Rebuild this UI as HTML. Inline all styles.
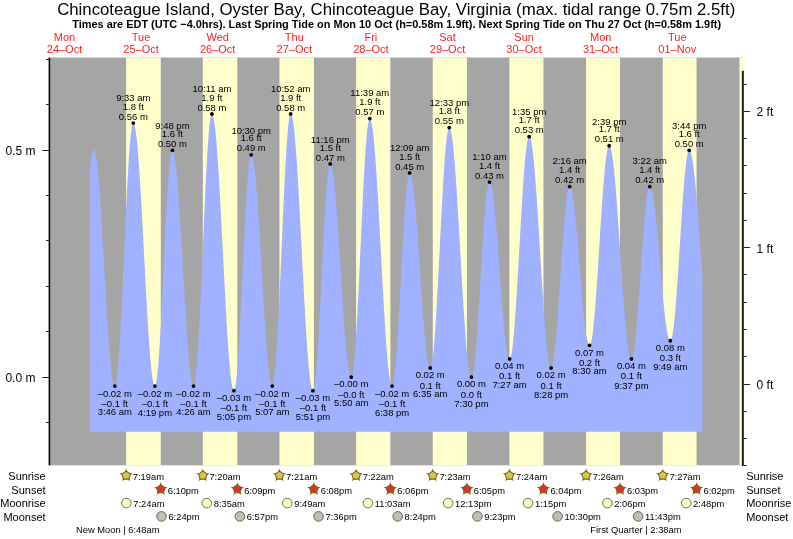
<!DOCTYPE html>
<html><head><meta charset="utf-8"><title>Tide chart</title>
<style>html,body{margin:0;padding:0;background:#fff;}svg{display:block;font-family:"Liberation Sans",sans-serif;will-change:transform;}text{fill:#000;}.t{font-size:9.5px;text-anchor:middle;}.d{font-size:11px;text-anchor:middle;fill:#f62222;}.s{font-size:9.35px;}.r{font-size:12px;}.w{font-size:11px;}</style></head><body>
<svg width="793" height="539" viewBox="0 0 793 539">
<rect width="793" height="539" fill="#fff"/>
<text x="396.2" y="15.4" text-anchor="middle" font-size="16.8px">Chincoteague Island, Oyster Bay, Chincoteague Bay, Virginia (max. tidal range 0.75m 2.5ft)</text>
<text x="396.7" y="28.3" text-anchor="middle" font-size="10.95px" font-weight="bold">Times are EDT (UTC −4.0hrs). Last Spring Tide on Mon 10 Oct (h=0.58m 1.9ft). Next Spring Tide on Thu 27 Oct (h=0.58m 1.9ft)</text>
<text class="d" x="64.5" y="41.3">Mon</text>
<text class="d" x="64.5" y="53.1">24–Oct</text>
<text class="d" x="141.1" y="41.3">Tue</text>
<text class="d" x="141.1" y="53.1">25–Oct</text>
<text class="d" x="217.7" y="41.3">Wed</text>
<text class="d" x="217.7" y="53.1">26–Oct</text>
<text class="d" x="294.3" y="41.3">Thu</text>
<text class="d" x="294.3" y="53.1">27–Oct</text>
<text class="d" x="370.9" y="41.3">Fri</text>
<text class="d" x="370.9" y="53.1">28–Oct</text>
<text class="d" x="447.5" y="41.3">Sat</text>
<text class="d" x="447.5" y="53.1">29–Oct</text>
<text class="d" x="524.1" y="41.3">Sun</text>
<text class="d" x="524.1" y="53.1">30–Oct</text>
<text class="d" x="600.7" y="41.3">Mon</text>
<text class="d" x="600.7" y="53.1">31–Oct</text>
<text class="d" x="677.3" y="41.3">Tue</text>
<text class="d" x="677.3" y="53.1">01–Nov</text>
<rect x="50.0" y="57.5" width="693.0" height="407.8" fill="#a5a5a5"/>
<rect x="126.15" y="57.5" width="34.63" height="407.8" fill="#ffffcc"/>
<rect x="202.81" y="57.5" width="34.52" height="407.8" fill="#ffffcc"/>
<rect x="279.46" y="57.5" width="34.42" height="407.8" fill="#ffffcc"/>
<rect x="356.11" y="57.5" width="34.26" height="407.8" fill="#ffffcc"/>
<rect x="432.77" y="57.5" width="34.15" height="407.8" fill="#ffffcc"/>
<rect x="509.42" y="57.5" width="34.04" height="407.8" fill="#ffffcc"/>
<rect x="586.12" y="57.5" width="33.88" height="407.8" fill="#ffffcc"/>
<rect x="662.78" y="57.5" width="33.78" height="407.8" fill="#ffffcc"/>
<rect x="739.43" y="57.5" width="3.57" height="407.8" fill="#ffffcc"/>
<path d="M90.00,431.80L90.00,169.74L90.44,165.20L90.87,161.20L91.31,157.75L91.75,154.88L92.19,152.60L92.62,150.92L93.06,149.86L93.50,149.41L93.94,149.54L94.37,150.17L94.81,151.30L95.25,152.91L95.69,155.01L96.12,157.57L96.56,160.60L97.00,164.08L97.44,167.99L97.87,172.32L98.31,177.05L98.75,182.16L99.19,187.63L99.62,193.44L100.06,199.55L100.50,205.96L100.94,212.62L101.37,219.51L101.81,226.60L102.25,233.87L102.69,241.28L103.12,248.80L103.56,256.40L104.00,264.04L104.44,271.71L104.87,279.35L105.31,286.95L105.75,294.47L106.18,301.87L106.62,309.13L107.06,316.22L107.50,323.11L107.93,329.76L108.37,336.15L108.81,342.26L109.25,348.05L109.68,353.51L110.12,358.61L110.56,363.33L111.00,367.65L111.43,371.55L111.87,375.01L112.31,378.03L112.75,380.58L113.18,382.66L113.62,384.26L114.06,385.37L114.50,385.98L114.93,386.10L115.37,385.55L115.81,384.27L116.25,382.28L116.68,379.58L117.12,376.18L117.56,372.12L118.00,367.40L118.43,362.06L118.87,356.12L119.31,349.62L119.75,342.59L120.18,335.08L120.62,327.12L121.06,318.75L121.49,310.04L121.93,301.01L122.37,291.73L122.81,282.24L123.24,272.60L123.68,262.86L124.12,253.08L124.56,243.30L124.99,233.59L125.43,223.99L125.87,214.56L126.31,205.35L126.74,196.42L127.18,187.81L127.62,179.57L128.06,171.74L128.49,164.37L128.93,157.51L129.37,151.18L129.81,145.42L130.24,140.27L130.68,135.75L131.12,131.89L131.56,128.72L131.99,126.23L132.43,124.46L132.87,123.41L133.31,123.09L133.74,123.39L134.18,124.22L134.62,125.57L135.06,127.45L135.49,129.84L135.93,132.74L136.37,136.13L136.80,140.00L137.24,144.33L137.68,149.11L138.12,154.32L138.55,159.93L138.99,165.93L139.43,172.28L139.87,178.97L140.30,185.97L140.74,193.24L141.18,200.76L141.62,208.50L142.05,216.43L142.49,224.50L142.93,232.71L143.37,241.00L143.80,249.34L144.24,257.71L144.68,266.06L145.12,274.37L145.55,282.60L145.99,290.71L146.43,298.68L146.87,306.47L147.30,314.05L147.74,321.39L148.18,328.46L148.62,335.23L149.05,341.67L149.49,347.76L149.93,353.48L150.37,358.79L150.80,363.69L151.24,368.14L151.68,372.13L152.11,375.64L152.55,378.67L152.99,381.19L153.43,383.20L153.86,384.70L154.30,385.66L154.74,386.09L155.18,385.95L155.61,385.09L156.05,383.51L156.49,381.22L156.93,378.23L157.36,374.57L157.80,370.25L158.24,365.30L158.68,359.75L159.11,353.64L159.55,347.00L159.99,339.88L160.43,332.31L160.86,324.35L161.30,316.04L161.74,307.44L162.18,298.60L162.61,289.57L163.05,280.41L163.49,271.17L163.93,261.91L164.36,252.70L164.80,243.58L165.24,234.61L165.68,225.85L166.11,217.34L166.55,209.16L166.99,201.33L167.42,193.92L167.86,186.97L168.30,180.52L168.74,174.60L169.17,169.27L169.61,164.54L170.05,160.45L170.49,157.03L170.92,154.29L171.36,152.26L171.80,150.94L172.24,150.34L172.67,150.41L173.11,151.00L173.55,152.07L173.99,153.64L174.42,155.69L174.86,158.21L175.30,161.20L175.74,164.63L176.17,168.51L176.61,172.80L177.05,177.50L177.49,182.57L177.92,188.01L178.36,193.79L178.80,199.87L179.24,206.25L179.67,212.89L180.11,219.76L180.55,226.83L180.99,234.08L181.42,241.47L181.86,248.98L182.30,256.57L182.73,264.20L183.17,271.85L183.61,279.49L184.05,287.08L184.48,294.59L184.92,301.99L185.36,309.24L185.80,316.33L186.23,323.21L186.67,329.86L187.11,336.25L187.55,342.35L187.98,348.14L188.42,353.60L188.86,358.69L189.30,363.40L189.73,367.72L190.17,371.61L190.61,375.07L191.05,378.08L191.48,380.62L191.92,382.69L192.36,384.28L192.80,385.38L193.23,385.99L193.67,386.09L194.11,385.50L194.55,384.15L194.98,382.05L195.42,379.20L195.86,375.64L196.30,371.37L196.73,366.42L197.17,360.82L197.61,354.60L198.04,347.79L198.48,340.43L198.92,332.57L199.36,324.25L199.79,315.51L200.23,306.40L200.67,296.98L201.11,287.29L201.54,277.40L201.98,267.35L202.42,257.21L202.86,247.02L203.29,236.86L203.73,226.76L204.17,216.80L204.61,207.03L205.04,197.49L205.48,188.25L205.92,179.36L206.36,170.86L206.79,162.81L207.23,155.24L207.67,148.21L208.11,141.75L208.54,135.89L208.98,130.68L209.42,126.13L209.86,122.28L210.29,119.15L210.73,116.75L211.17,115.09L211.61,114.20L212.04,114.05L212.48,114.49L212.92,115.47L213.35,116.98L213.79,119.02L214.23,121.58L214.67,124.64L215.10,128.21L215.54,132.25L215.98,136.77L216.42,141.73L216.85,147.13L217.29,152.93L217.73,159.12L218.17,165.68L218.60,172.57L219.04,179.77L219.48,187.25L219.92,194.99L220.35,202.95L220.79,211.11L221.23,219.42L221.67,227.86L222.10,236.40L222.54,245.00L222.98,253.62L223.42,262.25L223.85,270.83L224.29,279.34L224.73,287.75L225.17,296.02L225.60,304.12L226.04,312.02L226.48,319.68L226.92,327.08L227.35,334.20L227.79,340.99L228.23,347.44L228.66,353.52L229.10,359.20L229.54,364.47L229.98,369.30L230.41,373.68L230.85,377.58L231.29,381.00L231.73,383.91L232.16,386.32L232.60,388.20L233.04,389.55L233.48,390.37L233.91,390.65L234.35,390.30L234.79,389.20L235.23,387.37L235.66,384.81L236.10,381.55L236.54,377.60L236.98,372.98L237.41,367.74L237.85,361.89L238.29,355.48L238.73,348.55L239.16,341.14L239.60,333.30L240.04,325.07L240.48,316.52L240.91,307.68L241.35,298.63L241.79,289.42L242.23,280.10L242.66,270.73L243.10,261.37L243.54,252.09L243.97,242.94L244.41,233.97L244.85,225.25L245.29,216.83L245.72,208.77L246.16,201.10L246.60,193.89L247.04,187.18L247.47,181.01L247.91,175.42L248.35,170.44L248.79,166.11L249.22,162.45L249.66,159.49L250.10,157.24L250.54,155.72L250.97,154.95L251.41,154.89L251.85,155.35L252.29,156.31L252.72,157.74L253.16,159.66L253.60,162.04L254.04,164.89L254.47,168.17L254.91,171.90L255.35,176.04L255.79,180.58L256.22,185.50L256.66,190.78L257.10,196.40L257.54,202.33L257.97,208.55L258.41,215.03L258.85,221.74L259.28,228.67L259.72,235.77L260.16,243.01L260.60,250.38L261.03,257.82L261.47,265.33L261.91,272.85L262.35,280.36L262.78,287.83L263.22,295.23L263.66,302.52L264.10,309.68L264.53,316.67L264.97,323.47L265.41,330.04L265.85,336.36L266.28,342.40L266.72,348.14L267.16,353.55L267.60,358.60L268.03,363.28L268.47,367.57L268.91,371.45L269.35,374.90L269.78,377.91L270.22,380.47L270.66,382.56L271.10,384.17L271.53,385.31L271.97,385.95L272.41,386.11L272.85,385.59L273.28,384.32L273.72,382.29L274.16,379.52L274.59,376.03L275.03,371.83L275.47,366.95L275.91,361.41L276.34,355.25L276.78,348.50L277.22,341.19L277.66,333.38L278.09,325.10L278.53,316.40L278.97,307.33L279.41,297.94L279.84,288.27L280.28,278.40L280.72,268.36L281.16,258.23L281.59,248.04L282.03,237.87L282.47,227.77L282.91,217.79L283.34,208.00L283.78,198.43L284.22,189.16L284.66,180.23L285.09,171.69L285.53,163.59L285.97,155.98L286.41,148.89L286.84,142.37L287.28,136.45L287.72,131.17L288.16,126.56L288.59,122.64L289.03,119.43L289.47,116.95L289.90,115.22L290.34,114.25L290.78,114.03L291.22,114.41L291.65,115.32L292.09,116.74L292.53,118.68L292.97,121.13L293.40,124.07L293.84,127.51L294.28,131.41L294.72,135.78L295.15,140.59L295.59,145.83L296.03,151.47L296.47,157.49L296.90,163.87L297.34,170.59L297.78,177.62L298.22,184.94L298.65,192.51L299.09,200.31L299.53,208.30L299.97,216.46L300.40,224.76L300.84,233.17L301.28,241.64L301.72,250.16L302.15,258.69L302.59,267.19L303.03,275.63L303.47,283.99L303.90,292.23L304.34,300.31L304.78,308.22L305.21,315.91L305.65,323.35L306.09,330.53L306.53,337.41L306.96,343.97L307.40,350.18L307.84,356.02L308.28,361.46L308.71,366.49L309.15,371.09L309.59,375.23L310.03,378.91L310.46,382.11L310.90,384.81L311.34,387.01L311.78,388.70L312.21,389.87L312.65,390.51L313.09,390.63L313.53,390.08L313.96,388.82L314.40,386.85L314.84,384.19L315.28,380.86L315.71,376.87L316.15,372.25L316.59,367.04L317.03,361.25L317.46,354.94L317.90,348.14L318.34,340.88L318.78,333.23L319.21,325.22L319.65,316.92L320.09,308.36L320.52,299.60L320.96,290.70L321.40,281.72L321.84,272.71L322.27,263.73L322.71,254.84L323.15,246.08L323.59,237.53L324.02,229.22L324.46,221.22L324.90,213.57L325.34,206.32L325.77,199.53L326.21,193.22L326.65,187.45L327.09,182.24L327.52,177.63L327.96,173.65L328.40,170.33L328.84,167.68L329.27,165.72L329.71,164.47L330.15,163.93L330.59,164.03L331.02,164.60L331.46,165.63L331.90,167.10L332.34,169.02L332.77,171.38L333.21,174.16L333.65,177.36L334.09,180.95L334.52,184.93L334.96,189.28L335.40,193.98L335.83,199.01L336.27,204.34L336.71,209.96L337.15,215.83L337.58,221.95L338.02,228.27L338.46,234.77L338.90,241.43L339.33,248.21L339.77,255.08L340.21,262.03L340.65,269.01L341.08,275.99L341.52,282.95L341.96,289.86L342.40,296.68L342.83,303.40L343.27,309.97L343.71,316.37L344.15,322.57L344.58,328.55L345.02,334.28L345.46,339.74L345.90,344.90L346.33,349.73L346.77,354.23L347.21,358.37L347.65,362.13L348.08,365.50L348.52,368.45L348.96,370.99L349.40,373.10L349.83,374.76L350.27,375.98L350.71,376.74L351.14,377.04L351.58,376.80L352.02,375.86L352.46,374.22L352.89,371.88L353.33,368.87L353.77,365.19L354.21,360.87L354.64,355.93L355.08,350.39L355.52,344.30L355.96,337.68L356.39,330.56L356.83,322.99L357.27,315.01L357.71,306.66L358.14,297.99L358.58,289.05L359.02,279.88L359.46,270.53L359.89,261.06L360.33,251.51L360.77,241.95L361.21,232.41L361.64,222.97L362.08,213.65L362.52,204.53L362.96,195.64L363.39,187.04L363.83,178.77L364.27,170.88L364.71,163.41L365.14,156.40L365.58,149.89L366.02,143.92L366.45,138.52L366.89,133.71L367.33,129.53L367.77,126.00L368.20,123.14L368.64,120.96L369.08,119.47L369.52,118.69L369.95,118.59L370.39,119.05L370.83,120.01L371.27,121.47L371.70,123.43L372.14,125.88L372.58,128.81L373.02,132.21L373.45,136.07L373.89,140.36L374.33,145.09L374.77,150.22L375.20,155.74L375.64,161.63L376.08,167.86L376.52,174.41L376.95,181.26L377.39,188.38L377.83,195.74L378.27,203.31L378.70,211.08L379.14,219.00L379.58,227.04L380.02,235.19L380.45,243.40L380.89,251.64L381.33,259.88L381.76,268.10L382.20,276.25L382.64,284.32L383.08,292.26L383.51,300.05L383.95,307.66L384.39,315.06L384.83,322.23L385.26,329.12L385.70,335.73L386.14,342.01L386.58,347.96L387.01,353.54L387.45,358.74L387.89,363.54L388.33,367.91L388.76,371.84L389.20,375.32L389.64,378.33L390.08,380.86L390.51,382.91L390.95,384.45L391.39,385.50L391.83,386.04L392.26,386.06L392.70,385.45L393.14,384.20L393.58,382.31L394.01,379.79L394.45,376.66L394.89,372.95L395.33,368.66L395.76,363.83L396.20,358.49L396.64,352.67L397.07,346.40L397.51,339.72L397.95,332.68L398.39,325.32L398.82,317.67L399.26,309.80L399.70,301.74L400.14,293.54L400.57,285.26L401.01,276.95L401.45,268.65L401.89,260.42L402.32,252.30L402.76,244.35L403.20,236.62L403.64,229.14L404.07,221.97L404.51,215.16L404.95,208.73L405.39,202.74L405.82,197.21L406.26,192.19L406.70,187.69L407.14,183.76L407.57,180.41L408.01,177.66L408.45,175.53L408.89,174.04L409.32,173.19L409.76,172.98L410.20,173.28L410.64,174.02L411.07,175.18L411.51,176.78L411.95,178.79L412.38,181.21L412.82,184.04L413.26,187.25L413.70,190.83L414.13,194.77L414.57,199.05L415.01,203.65L415.45,208.54L415.88,213.72L416.32,219.15L416.76,224.81L417.20,230.67L417.63,236.71L418.07,242.90L418.51,249.22L418.95,255.63L419.38,262.11L419.82,268.63L420.26,275.15L420.70,281.65L421.13,288.10L421.57,294.48L422.01,300.75L422.45,306.88L422.88,312.84L423.32,318.62L423.76,324.18L424.20,329.51L424.63,334.56L425.07,339.34L425.51,343.80L425.95,347.93L426.38,351.72L426.82,355.14L427.26,358.19L427.69,360.84L428.13,363.09L428.57,364.92L429.01,366.33L429.44,367.31L429.88,367.86L430.32,367.96L430.76,367.49L431.19,366.40L431.63,364.70L432.07,362.38L432.51,359.47L432.94,355.98L433.38,351.92L433.82,347.32L434.26,342.21L434.69,336.60L435.13,330.53L435.57,324.03L436.01,317.13L436.44,309.88L436.88,302.30L437.32,294.43L437.76,286.32L438.19,278.02L438.63,269.55L439.07,260.97L439.51,252.33L439.94,243.65L440.38,235.01L440.82,226.42L441.26,217.95L441.69,209.64L442.13,201.52L442.57,193.64L443.00,186.05L443.44,178.78L443.88,171.86L444.32,165.35L444.75,159.26L445.19,153.63L445.63,148.49L446.07,143.87L446.50,139.79L446.94,136.27L447.38,133.34L447.82,130.99L448.25,129.26L448.69,128.14L449.13,127.65L449.57,127.75L450.00,128.32L450.44,129.38L450.88,130.91L451.32,132.90L451.75,135.35L452.19,138.25L452.63,141.59L453.07,145.35L453.50,149.52L453.94,154.09L454.38,159.03L454.82,164.33L455.25,169.97L455.69,175.93L456.13,182.18L456.57,188.70L457.00,195.46L457.44,202.44L457.88,209.61L458.31,216.95L458.75,224.42L459.19,232.00L459.63,239.65L460.06,247.36L460.50,255.08L460.94,262.80L461.38,270.47L461.81,278.08L462.25,285.58L462.69,292.96L463.13,300.18L463.56,307.22L464.00,314.05L464.44,320.64L464.88,326.97L465.31,333.01L465.75,338.75L466.19,344.15L466.63,349.20L467.06,353.88L467.50,358.16L467.94,362.05L468.38,365.51L468.81,368.53L469.25,371.12L469.69,373.24L470.13,374.90L470.56,376.09L471.00,376.81L471.44,377.05L471.88,376.77L472.31,375.93L472.75,374.53L473.19,372.58L473.62,370.10L474.06,367.09L474.50,363.58L474.94,359.58L475.37,355.12L475.81,350.23L476.25,344.93L476.69,339.25L477.12,333.22L477.56,326.89L478.00,320.28L478.44,313.44L478.87,306.40L479.31,299.21L479.75,291.91L480.19,284.53L480.62,277.12L481.06,269.73L481.50,262.40L481.94,255.16L482.37,248.06L482.81,241.15L483.25,234.46L483.69,228.02L484.12,221.89L484.56,216.09L485.00,210.65L485.44,205.61L485.87,201.00L486.31,196.84L486.75,193.16L487.19,189.98L487.62,187.31L488.06,185.18L488.50,183.59L488.93,182.55L489.37,182.08L489.81,182.13L490.25,182.61L490.68,183.50L491.12,184.80L491.56,186.50L492.00,188.60L492.43,191.08L492.87,193.93L493.31,197.14L493.75,200.70L494.18,204.58L494.62,208.78L495.06,213.26L495.50,218.01L495.93,223.01L496.37,228.23L496.81,233.65L497.25,239.24L497.68,244.98L498.12,250.83L498.56,256.78L499.00,262.80L499.43,268.85L499.87,274.91L500.31,280.94L500.75,286.93L501.18,292.84L501.62,298.65L502.06,304.32L502.50,309.84L502.93,315.17L503.37,320.29L503.81,325.17L504.24,329.80L504.68,334.15L505.12,338.21L505.56,341.94L505.99,345.34L506.43,348.39L506.87,351.07L507.31,353.37L507.74,355.29L508.18,356.80L508.62,357.91L509.06,358.62L509.49,358.90L509.93,358.73L510.37,358.02L510.81,356.76L511.24,354.96L511.68,352.64L512.12,349.80L512.56,346.46L512.99,342.63L513.43,338.34L513.87,333.60L514.31,328.43L514.74,322.87L515.18,316.94L515.62,310.67L516.06,304.09L516.49,297.23L516.93,290.13L517.37,282.82L517.81,275.34L518.24,267.72L518.68,260.00L519.12,252.23L519.55,244.43L519.99,236.65L520.43,228.92L520.87,221.29L521.30,213.79L521.74,206.45L522.18,199.32L522.62,192.43L523.05,185.81L523.49,179.49L523.93,173.51L524.37,167.90L524.80,162.68L525.24,157.88L525.68,153.53L526.12,149.63L526.55,146.23L526.99,143.32L527.43,140.92L527.87,139.06L528.30,137.73L528.74,136.94L529.18,136.70L529.62,136.95L530.05,137.65L530.49,138.80L530.93,140.40L531.37,142.43L531.80,144.90L532.24,147.78L532.68,151.07L533.12,154.76L533.55,158.83L533.99,163.27L534.43,168.05L534.86,173.17L535.30,178.59L535.74,184.30L536.18,190.28L536.61,196.50L537.05,202.94L537.49,209.58L537.93,216.38L538.36,223.32L538.80,230.37L539.24,237.51L539.68,244.71L540.11,251.94L540.55,259.17L540.99,266.37L541.43,273.52L541.86,280.58L542.30,287.54L542.74,294.36L543.18,301.01L543.61,307.47L544.05,313.72L544.49,319.72L544.93,325.47L545.36,330.92L545.80,336.07L546.24,340.90L546.68,345.37L547.11,349.48L547.55,353.22L547.99,356.55L548.43,359.48L548.86,361.99L549.30,364.07L549.74,365.72L550.17,366.92L550.61,367.67L551.05,367.97L551.49,367.81L551.92,367.14L552.36,365.98L552.80,364.33L553.24,362.20L553.67,359.61L554.11,356.56L554.55,353.07L554.99,349.17L555.42,344.87L555.86,340.20L556.30,335.18L556.74,329.84L557.17,324.22L557.61,318.33L558.05,312.22L558.49,305.91L558.92,299.45L559.36,292.87L559.80,286.20L560.24,279.48L560.67,272.75L561.11,266.04L561.55,259.40L561.99,252.85L562.42,246.44L562.86,240.20L563.30,234.16L563.74,228.36L564.17,222.83L564.61,217.60L565.05,212.70L565.48,208.16L565.92,203.99L566.36,200.23L566.80,196.89L567.23,194.00L567.67,191.56L568.11,189.60L568.55,188.12L568.98,187.13L569.42,186.64L569.86,186.63L570.30,187.01L570.73,187.77L571.17,188.91L571.61,190.41L572.05,192.27L572.48,194.48L572.92,197.03L573.36,199.91L573.80,203.11L574.23,206.60L574.67,210.38L575.11,214.43L575.55,218.72L575.98,223.23L576.42,227.95L576.86,232.85L577.30,237.91L577.73,243.10L578.17,248.40L578.61,253.78L579.05,259.22L579.48,264.70L579.92,270.18L580.36,275.64L580.79,281.05L581.23,286.39L581.67,291.64L582.11,296.76L582.54,301.73L582.98,306.54L583.42,311.15L583.86,315.54L584.29,319.70L584.73,323.60L585.17,327.23L585.61,330.56L586.04,333.59L586.48,336.29L586.92,338.66L587.36,340.68L587.79,342.34L588.23,343.64L588.67,344.57L589.11,345.13L589.54,345.30L589.98,345.04L590.42,344.30L590.86,343.06L591.29,341.36L591.73,339.18L592.17,336.54L592.61,333.45L593.04,329.94L593.48,326.01L593.92,321.69L594.36,316.99L594.79,311.95L595.23,306.58L595.67,300.91L596.10,294.97L596.54,288.78L596.98,282.39L597.42,275.81L597.85,269.09L598.29,262.25L598.73,255.33L599.17,248.36L599.60,241.37L600.04,234.41L600.48,227.50L600.92,220.68L601.35,213.98L601.79,207.44L602.23,201.08L602.67,194.94L603.10,189.05L603.54,183.44L603.98,178.13L604.42,173.15L604.85,168.52L605.29,164.27L605.73,160.42L606.17,156.99L606.60,153.99L607.04,151.44L607.48,149.35L607.92,147.73L608.35,146.59L608.79,145.94L609.23,145.77L609.67,146.04L610.10,146.71L610.54,147.79L610.98,149.27L611.41,151.14L611.85,153.39L612.29,156.03L612.73,159.03L613.16,162.39L613.60,166.09L614.04,170.12L614.48,174.47L614.91,179.11L615.35,184.03L615.79,189.22L616.23,194.64L616.66,200.29L617.10,206.13L617.54,212.15L617.98,218.32L618.41,224.63L618.85,231.03L619.29,237.52L619.73,244.07L620.16,250.65L620.60,257.23L621.04,263.80L621.48,270.32L621.91,276.78L622.35,283.14L622.79,289.38L623.23,295.48L623.66,301.42L624.10,307.17L624.54,312.71L624.98,318.02L625.41,323.07L625.85,327.86L626.29,332.36L626.72,336.56L627.16,340.43L627.60,343.97L628.04,347.15L628.47,349.98L628.91,352.43L629.35,354.50L629.79,356.18L630.22,357.46L630.66,358.34L631.10,358.82L631.54,358.88L631.97,358.48L632.41,357.60L632.85,356.25L633.29,354.42L633.72,352.14L634.16,349.42L634.60,346.26L635.04,342.69L635.47,338.73L635.91,334.40L636.35,329.73L636.79,324.73L637.22,319.45L637.66,313.90L638.10,308.12L638.54,302.14L638.97,296.00L639.41,289.73L639.85,283.36L640.29,276.93L640.72,270.48L641.16,264.05L641.60,257.66L642.03,251.35L642.47,245.17L642.91,239.14L643.35,233.30L643.78,227.68L644.22,222.31L644.66,217.22L645.10,212.45L645.53,208.01L645.97,203.94L646.41,200.25L646.85,196.97L647.28,194.12L647.72,191.70L648.16,189.74L648.60,188.24L649.03,187.22L649.47,186.67L649.91,186.60L650.35,186.90L650.78,187.55L651.22,188.53L651.66,189.84L652.10,191.49L652.53,193.45L652.97,195.73L653.41,198.31L653.85,201.19L654.28,204.34L654.72,207.75L655.16,211.42L655.60,215.31L656.03,219.43L656.47,223.74L656.91,228.22L657.34,232.87L657.78,237.65L658.22,242.55L658.66,247.54L659.09,252.61L659.53,257.72L659.97,262.86L660.41,268.01L660.84,273.13L661.28,278.22L661.72,283.23L662.16,288.16L662.59,292.99L663.03,297.68L663.47,302.22L663.91,306.58L664.34,310.76L664.78,314.73L665.22,318.47L665.66,321.96L666.09,325.20L666.53,328.16L666.97,330.84L667.41,333.21L667.84,335.28L668.28,337.02L668.72,338.44L669.16,339.53L669.59,340.28L670.03,340.69L670.47,340.75L670.91,340.34L671.34,339.43L671.78,338.02L672.22,336.12L672.65,333.74L673.09,330.90L673.53,327.61L673.97,323.88L674.40,319.73L674.84,315.19L675.28,310.29L675.72,305.04L676.15,299.47L676.59,293.62L677.03,287.52L677.47,281.19L677.90,274.68L678.34,268.01L678.78,261.22L679.22,254.35L679.65,247.43L680.09,240.51L680.53,233.60L680.97,226.77L681.40,220.03L681.84,213.42L682.28,206.99L682.72,200.76L683.15,194.77L683.59,189.04L684.03,183.62L684.47,178.52L684.90,173.78L685.34,169.42L685.78,165.46L686.22,161.92L686.65,158.83L687.09,156.19L687.53,154.03L687.96,152.35L688.40,151.17L688.84,150.49L689.28,150.30L689.71,150.54L690.15,151.14L690.59,152.10L691.03,153.43L691.46,155.11L691.90,157.13L692.34,159.50L692.78,162.21L693.21,165.24L693.65,168.58L694.09,172.22L694.53,176.15L694.96,180.35L695.40,184.81L695.84,189.51L696.28,194.44L696.71,199.58L697.15,204.91L697.59,210.40L698.03,216.05L698.46,221.83L698.90,227.72L699.34,233.69L699.78,239.74L700.21,245.82L700.65,251.94L701.09,258.05L701.53,264.14L701.96,270.19L702.40,276.18L702.40,431.80Z" fill="#a0b2ff"/>
<rect x="48.6" y="57.5" width="1.6" height="407.8" fill="#000"/>
<rect x="46" y="422" width="3" height="1" fill="#222"/>
<rect x="42.3" y="377" width="6.7" height="1" fill="#222"/>
<rect x="46" y="331" width="3" height="1" fill="#222"/>
<rect x="46" y="286" width="3" height="1" fill="#222"/>
<rect x="46" y="240" width="3" height="1" fill="#222"/>
<rect x="46" y="195" width="3" height="1" fill="#222"/>
<rect x="42.3" y="150" width="6.7" height="1" fill="#222"/>
<rect x="46" y="104" width="3" height="1" fill="#222"/>
<rect x="46" y="59" width="3" height="1" fill="#222"/>
<text class="r" x="35.4" y="154.7" text-anchor="end">0.5 m</text>
<text class="r" x="35.4" y="381.5" text-anchor="end">0.0 m</text>
<rect x="741.9" y="70.8" width="1.9" height="395.2" fill="#181818"/>
<rect x="743.5" y="465" width="3.2" height="1" fill="#222"/>
<rect x="743.5" y="438" width="3.2" height="1" fill="#222"/>
<rect x="743.5" y="411" width="3.2" height="1" fill="#222"/>
<rect x="743.5" y="384" width="6.5" height="1" fill="#222"/>
<text class="r" x="756.6" y="388.9">0 ft</text>
<rect x="743.5" y="356" width="3.2" height="1" fill="#222"/>
<rect x="743.5" y="329" width="3.2" height="1" fill="#222"/>
<rect x="743.5" y="302" width="3.2" height="1" fill="#222"/>
<rect x="743.5" y="274" width="3.2" height="1" fill="#222"/>
<rect x="743.5" y="247" width="6.5" height="1" fill="#222"/>
<text class="r" x="756.6" y="252.6">1 ft</text>
<rect x="743.5" y="220" width="3.2" height="1" fill="#222"/>
<rect x="743.5" y="193" width="3.2" height="1" fill="#222"/>
<rect x="743.5" y="165" width="3.2" height="1" fill="#222"/>
<rect x="743.5" y="138" width="3.2" height="1" fill="#222"/>
<rect x="743.5" y="111" width="6.5" height="1" fill="#222"/>
<text class="r" x="756.6" y="116.2">2 ft</text>
<rect x="743.5" y="84" width="3.2" height="1" fill="#222"/>
<circle cx="114.82" cy="386.12" r="1.9" fill="#000"/>
<text class="t" x="114.8" y="396.5">–0.02 m</text>
<text class="t" x="114.8" y="406.6">–0.1 ft</text>
<text class="t" x="114.8" y="415.1">3:46 am</text>
<circle cx="133.28" cy="123.09" r="1.9" fill="#000"/>
<text class="t" x="133.3" y="100.7">9:33 am</text>
<text class="t" x="133.3" y="109.7">1.8 ft</text>
<text class="t" x="133.3" y="119.7">0.56 m</text>
<circle cx="154.88" cy="386.12" r="1.9" fill="#000"/>
<text class="t" x="154.9" y="396.5">–0.02 m</text>
<text class="t" x="154.9" y="406.6">–0.1 ft</text>
<text class="t" x="154.9" y="415.8">4:19 pm</text>
<circle cx="172.38" cy="150.30" r="1.9" fill="#000"/>
<text class="t" x="172.4" y="129.0">9:48 pm</text>
<text class="t" x="172.4" y="136.9">1.6 ft</text>
<text class="t" x="172.4" y="146.9">0.50 m</text>
<circle cx="193.55" cy="386.12" r="1.9" fill="#000"/>
<text class="t" x="193.5" y="396.5">–0.02 m</text>
<text class="t" x="193.5" y="406.6">–0.1 ft</text>
<text class="t" x="193.5" y="415.1">4:26 am</text>
<circle cx="211.90" cy="114.02" r="1.9" fill="#000"/>
<text class="t" x="211.9" y="91.6">10:11 am</text>
<text class="t" x="211.9" y="100.6">1.9 ft</text>
<text class="t" x="211.9" y="110.6">0.58 m</text>
<circle cx="233.92" cy="390.66" r="1.9" fill="#000"/>
<text class="t" x="233.9" y="401.1">–0.03 m</text>
<text class="t" x="233.9" y="411.2">–0.1 ft</text>
<text class="t" x="233.9" y="420.4">5:05 pm</text>
<circle cx="251.21" cy="154.84" r="1.9" fill="#000"/>
<text class="t" x="251.2" y="133.5">10:30 pm</text>
<text class="t" x="251.2" y="141.4">1.6 ft</text>
<text class="t" x="251.2" y="151.4">0.49 m</text>
<circle cx="272.33" cy="386.12" r="1.9" fill="#000"/>
<text class="t" x="272.3" y="396.5">–0.02 m</text>
<text class="t" x="272.3" y="406.6">–0.1 ft</text>
<text class="t" x="272.3" y="415.1">5:07 am</text>
<circle cx="290.68" cy="114.02" r="1.9" fill="#000"/>
<text class="t" x="290.7" y="91.6">10:52 am</text>
<text class="t" x="290.7" y="100.6">1.9 ft</text>
<text class="t" x="290.7" y="110.6">0.58 m</text>
<circle cx="312.97" cy="390.66" r="1.9" fill="#000"/>
<text class="t" x="313.0" y="401.1">–0.03 m</text>
<text class="t" x="313.0" y="411.2">–0.1 ft</text>
<text class="t" x="313.0" y="420.4">5:51 pm</text>
<circle cx="330.26" cy="163.91" r="1.9" fill="#000"/>
<text class="t" x="330.3" y="142.6">11:16 pm</text>
<text class="t" x="330.3" y="150.5">1.5 ft</text>
<text class="t" x="330.3" y="160.5">0.47 m</text>
<circle cx="351.22" cy="377.05" r="1.9" fill="#000"/>
<text class="t" x="351.2" y="387.4">–0.00 m</text>
<text class="t" x="351.2" y="397.6">–0.0 ft</text>
<text class="t" x="351.2" y="406.1">5:50 am</text>
<circle cx="369.78" cy="118.56" r="1.9" fill="#000"/>
<text class="t" x="369.8" y="96.2">11:39 am</text>
<text class="t" x="369.8" y="105.2">1.9 ft</text>
<text class="t" x="369.8" y="115.2">0.57 m</text>
<circle cx="392.07" cy="386.12" r="1.9" fill="#000"/>
<text class="t" x="392.1" y="396.5">–0.02 m</text>
<text class="t" x="392.1" y="406.6">–0.1 ft</text>
<text class="t" x="392.1" y="415.8">6:38 pm</text>
<circle cx="409.68" cy="172.97" r="1.9" fill="#000"/>
<text class="t" x="409.7" y="150.6">12:09 am</text>
<text class="t" x="409.7" y="159.6">1.5 ft</text>
<text class="t" x="409.7" y="169.6">0.45 m</text>
<circle cx="430.21" cy="367.98" r="1.9" fill="#000"/>
<text class="t" x="430.2" y="378.4">0.02 m</text>
<text class="t" x="430.2" y="388.5">0.1 ft</text>
<text class="t" x="430.2" y="397.0">6:35 am</text>
<circle cx="449.26" cy="127.62" r="1.9" fill="#000"/>
<text class="t" x="449.3" y="106.3">12:33 pm</text>
<text class="t" x="449.3" y="114.2">1.8 ft</text>
<text class="t" x="449.3" y="124.2">0.55 m</text>
<circle cx="471.44" cy="377.05" r="1.9" fill="#000"/>
<text class="t" x="471.4" y="387.4">0.00 m</text>
<text class="t" x="471.4" y="397.6">0.0 ft</text>
<text class="t" x="471.4" y="406.8">7:30 pm</text>
<circle cx="489.52" cy="182.05" r="1.9" fill="#000"/>
<text class="t" x="489.5" y="159.6">1:10 am</text>
<text class="t" x="489.5" y="168.6">1.4 ft</text>
<text class="t" x="489.5" y="178.6">0.43 m</text>
<circle cx="509.58" cy="358.91" r="1.9" fill="#000"/>
<text class="t" x="509.6" y="369.3">0.04 m</text>
<text class="t" x="509.6" y="379.4">0.1 ft</text>
<text class="t" x="509.6" y="387.9">7:27 am</text>
<circle cx="529.15" cy="136.69" r="1.9" fill="#000"/>
<text class="t" x="529.2" y="115.4">1:35 pm</text>
<text class="t" x="529.2" y="123.3">1.7 ft</text>
<text class="t" x="529.2" y="133.3">0.53 m</text>
<circle cx="551.12" cy="367.98" r="1.9" fill="#000"/>
<text class="t" x="551.1" y="378.4">0.02 m</text>
<text class="t" x="551.1" y="388.5">0.1 ft</text>
<text class="t" x="551.1" y="397.7">8:28 pm</text>
<circle cx="569.63" cy="186.58" r="1.9" fill="#000"/>
<text class="t" x="569.6" y="164.2">2:16 am</text>
<text class="t" x="569.6" y="173.2">1.4 ft</text>
<text class="t" x="569.6" y="183.2">0.42 m</text>
<circle cx="589.53" cy="345.31" r="1.9" fill="#000"/>
<text class="t" x="589.5" y="355.7">0.07 m</text>
<text class="t" x="589.5" y="365.8">0.2 ft</text>
<text class="t" x="589.5" y="374.3">8:30 am</text>
<circle cx="609.16" cy="145.77" r="1.9" fill="#000"/>
<text class="t" x="609.2" y="124.5">2:39 pm</text>
<text class="t" x="609.2" y="132.4">1.7 ft</text>
<text class="t" x="609.2" y="142.4">0.51 m</text>
<circle cx="631.39" cy="358.91" r="1.9" fill="#000"/>
<text class="t" x="631.4" y="369.3">0.04 m</text>
<text class="t" x="631.4" y="379.4">0.1 ft</text>
<text class="t" x="631.4" y="388.6">9:37 pm</text>
<circle cx="649.75" cy="186.58" r="1.9" fill="#000"/>
<text class="t" x="649.7" y="164.2">3:22 am</text>
<text class="t" x="649.7" y="173.2">1.4 ft</text>
<text class="t" x="649.7" y="183.2">0.42 m</text>
<circle cx="670.33" cy="340.77" r="1.9" fill="#000"/>
<text class="t" x="670.3" y="351.2">0.08 m</text>
<text class="t" x="670.3" y="361.3">0.3 ft</text>
<text class="t" x="670.3" y="369.8">9:49 am</text>
<circle cx="689.22" cy="150.30" r="1.9" fill="#000"/>
<text class="t" x="689.2" y="129.0">3:44 pm</text>
<text class="t" x="689.2" y="136.9">1.6 ft</text>
<text class="t" x="689.2" y="146.9">0.50 m</text>
<text class="w" x="45.6" y="480.2" text-anchor="end">Sunrise</text>
<text class="w" x="746.2" y="480.2">Sunrise</text>
<text class="w" x="45.6" y="494.1" text-anchor="end">Sunset</text>
<text class="w" x="746.2" y="494.1">Sunset</text>
<text class="w" x="45.6" y="507.4" text-anchor="end">Moonrise</text>
<text class="w" x="746.2" y="507.4">Moonrise</text>
<text class="w" x="45.6" y="521.0" text-anchor="end">Moonset</text>
<text class="w" x="746.2" y="521.0">Moonset</text>
<polygon points="126.15,468.40 127.74,473.32 132.90,473.31 128.72,476.33 130.33,481.24 126.15,478.20 121.98,481.24 123.58,476.33 119.40,473.31 124.57,473.32" fill="#8a6410"/><polygon points="126.15,471.00 130.43,474.11 128.80,479.14 123.51,479.14 121.87,474.11" fill="#c8cc50" stroke="#8a6410" stroke-width="1.05" stroke-linejoin="miter"/>
<text class="s" x="132.8" y="479.5">7:19am</text>
<polygon points="160.78,482.10 162.37,487.02 167.53,487.01 163.35,490.03 164.96,494.94 160.78,491.90 156.61,494.94 158.21,490.03 154.03,487.01 159.19,487.02" fill="#7a6818"/><polygon points="160.78,484.70 165.06,487.81 163.43,492.84 158.14,492.84 156.50,487.81" fill="#e2302a" stroke="#7a6818" stroke-width="1.05" stroke-linejoin="miter"/>
<text class="s" x="167.7" y="493.6">6:10pm</text>
<circle cx="126.42" cy="503.1" r="4.8" fill="#ffffc4" stroke="#6e6e64" stroke-width="1"/>
<text class="s" x="133.3" y="506.6">7:24am</text>
<circle cx="161.53" cy="516.4" r="4.8" fill="#c0c0b0" stroke="#66665e" stroke-width="1"/>
<text class="s" x="168.4" y="520.3">6:24pm</text>
<polygon points="202.81,468.40 204.39,473.32 209.56,473.31 205.37,476.33 206.98,481.24 202.81,478.20 198.63,481.24 200.24,476.33 196.05,473.31 201.22,473.32" fill="#8a6410"/><polygon points="202.81,471.00 207.09,474.11 205.45,479.14 200.16,479.14 198.53,474.11" fill="#c8cc50" stroke="#8a6410" stroke-width="1.05" stroke-linejoin="miter"/>
<text class="s" x="209.4" y="479.5">7:20am</text>
<polygon points="237.33,482.10 238.92,487.02 244.08,487.01 239.90,490.03 241.50,494.94 237.33,491.90 233.16,494.94 234.76,490.03 230.58,487.01 235.74,487.02" fill="#7a6818"/><polygon points="237.33,484.70 241.61,487.81 239.97,492.84 234.68,492.84 233.05,487.81" fill="#e2302a" stroke="#7a6818" stroke-width="1.05" stroke-linejoin="miter"/>
<text class="s" x="244.2" y="493.6">6:09pm</text>
<circle cx="206.80" cy="503.1" r="4.8" fill="#ffffc4" stroke="#6e6e64" stroke-width="1"/>
<text class="s" x="213.7" y="506.6">8:35am</text>
<circle cx="239.88" cy="516.4" r="4.8" fill="#c0c0b0" stroke="#66665e" stroke-width="1"/>
<text class="s" x="246.8" y="520.3">6:57pm</text>
<polygon points="279.46,468.40 281.05,473.32 286.21,473.31 282.03,476.33 283.63,481.24 279.46,478.20 275.29,481.24 276.89,476.33 272.71,473.31 277.87,473.32" fill="#8a6410"/><polygon points="279.46,471.00 283.74,474.11 282.10,479.14 276.81,479.14 275.18,474.11" fill="#c8cc50" stroke="#8a6410" stroke-width="1.05" stroke-linejoin="miter"/>
<text class="s" x="286.1" y="479.5">7:21am</text>
<polygon points="313.88,482.10 315.46,487.02 320.63,487.01 316.44,490.03 318.05,494.94 313.88,491.90 309.70,494.94 311.31,490.03 307.12,487.01 312.29,487.02" fill="#7a6818"/><polygon points="313.88,484.70 318.16,487.81 316.52,492.84 311.23,492.84 309.60,487.81" fill="#e2302a" stroke="#7a6818" stroke-width="1.05" stroke-linejoin="miter"/>
<text class="s" x="320.8" y="493.6">6:08pm</text>
<circle cx="287.33" cy="503.1" r="4.8" fill="#ffffc4" stroke="#6e6e64" stroke-width="1"/>
<text class="s" x="294.2" y="506.6">9:49am</text>
<circle cx="318.56" cy="516.4" r="4.8" fill="#c0c0b0" stroke="#66665e" stroke-width="1"/>
<text class="s" x="325.5" y="520.3">7:36pm</text>
<polygon points="356.11,468.40 357.70,473.32 362.86,473.31 358.68,476.33 360.29,481.24 356.11,478.20 351.94,481.24 353.54,476.33 349.36,473.31 354.52,473.32" fill="#8a6410"/><polygon points="356.11,471.00 360.39,474.11 358.76,479.14 353.47,479.14 351.83,474.11" fill="#c8cc50" stroke="#8a6410" stroke-width="1.05" stroke-linejoin="miter"/>
<text class="s" x="362.7" y="479.5">7:22am</text>
<polygon points="390.37,482.10 391.96,487.02 397.12,487.01 392.94,490.03 394.54,494.94 390.37,491.90 386.20,494.94 387.80,490.03 383.62,487.01 388.78,487.02" fill="#7a6818"/><polygon points="390.37,484.70 394.65,487.81 393.01,492.84 387.72,492.84 386.09,487.81" fill="#e2302a" stroke="#7a6818" stroke-width="1.05" stroke-linejoin="miter"/>
<text class="s" x="397.3" y="493.6">6:06pm</text>
<circle cx="367.87" cy="503.1" r="4.8" fill="#ffffc4" stroke="#6e6e64" stroke-width="1"/>
<text class="s" x="374.8" y="506.6">11:03am</text>
<circle cx="397.71" cy="516.4" r="4.8" fill="#c0c0b0" stroke="#66665e" stroke-width="1"/>
<text class="s" x="404.6" y="520.3">8:24pm</text>
<polygon points="432.77,468.40 434.35,473.32 439.52,473.31 435.33,476.33 436.94,481.24 432.77,478.20 428.59,481.24 430.20,476.33 426.01,473.31 431.18,473.32" fill="#8a6410"/><polygon points="432.77,471.00 437.04,474.11 435.41,479.14 430.12,479.14 428.49,474.11" fill="#c8cc50" stroke="#8a6410" stroke-width="1.05" stroke-linejoin="miter"/>
<text class="s" x="439.4" y="479.5">7:23am</text>
<polygon points="466.92,482.10 468.50,487.02 473.67,487.01 469.48,490.03 471.09,494.94 466.92,491.90 462.74,494.94 464.35,490.03 460.16,487.01 465.33,487.02" fill="#7a6818"/><polygon points="466.92,484.70 471.20,487.81 469.56,492.84 464.27,492.84 462.64,487.81" fill="#e2302a" stroke="#7a6818" stroke-width="1.05" stroke-linejoin="miter"/>
<text class="s" x="473.8" y="493.6">6:05pm</text>
<circle cx="448.19" cy="503.1" r="4.8" fill="#ffffc4" stroke="#6e6e64" stroke-width="1"/>
<text class="s" x="455.1" y="506.6">12:13pm</text>
<circle cx="477.45" cy="516.4" r="4.8" fill="#c0c0b0" stroke="#66665e" stroke-width="1"/>
<text class="s" x="484.3" y="520.3">9:23pm</text>
<polygon points="509.42,468.40 511.01,473.32 516.17,473.31 511.99,476.33 513.59,481.24 509.42,478.20 505.25,481.24 506.85,476.33 502.67,473.31 507.83,473.32" fill="#8a6410"/><polygon points="509.42,471.00 513.70,474.11 512.06,479.14 506.77,479.14 505.14,474.11" fill="#c8cc50" stroke="#8a6410" stroke-width="1.05" stroke-linejoin="miter"/>
<text class="s" x="516.0" y="479.5">7:24am</text>
<polygon points="543.46,482.10 545.05,487.02 550.22,487.01 546.03,490.03 547.64,494.94 543.46,491.90 539.29,494.94 540.89,490.03 536.71,487.01 541.88,487.02" fill="#7a6818"/><polygon points="543.46,484.70 547.74,487.81 546.11,492.84 540.82,492.84 539.18,487.81" fill="#e2302a" stroke="#7a6818" stroke-width="1.05" stroke-linejoin="miter"/>
<text class="s" x="550.4" y="493.6">6:04pm</text>
<circle cx="528.09" cy="503.1" r="4.8" fill="#ffffc4" stroke="#6e6e64" stroke-width="1"/>
<text class="s" x="535.0" y="506.6">1:15pm</text>
<circle cx="557.61" cy="516.4" r="4.8" fill="#c0c0b0" stroke="#66665e" stroke-width="1"/>
<text class="s" x="564.5" y="520.3">10:30pm</text>
<polygon points="586.12,468.40 587.71,473.32 592.88,473.31 588.69,476.33 590.30,481.24 586.12,478.20 581.95,481.24 583.56,476.33 579.37,473.31 584.54,473.32" fill="#8a6410"/><polygon points="586.12,471.00 590.40,474.11 588.77,479.14 583.48,479.14 581.84,474.11" fill="#c8cc50" stroke="#8a6410" stroke-width="1.05" stroke-linejoin="miter"/>
<text class="s" x="592.7" y="479.5">7:26am</text>
<polygon points="620.01,482.10 621.60,487.02 626.76,487.01 622.58,490.03 624.18,494.94 620.01,491.90 615.84,494.94 617.44,490.03 613.26,487.01 618.42,487.02" fill="#7a6818"/><polygon points="620.01,484.70 624.29,487.81 622.65,492.84 617.36,492.84 615.73,487.81" fill="#e2302a" stroke="#7a6818" stroke-width="1.05" stroke-linejoin="miter"/>
<text class="s" x="626.9" y="493.6">6:03pm</text>
<circle cx="607.40" cy="503.1" r="4.8" fill="#ffffc4" stroke="#6e6e64" stroke-width="1"/>
<text class="s" x="614.3" y="506.6">2:06pm</text>
<circle cx="638.10" cy="516.4" r="4.8" fill="#c0c0b0" stroke="#66665e" stroke-width="1"/>
<text class="s" x="645.0" y="520.3">11:43pm</text>
<polygon points="662.78,468.40 664.36,473.32 669.53,473.31 665.35,476.33 666.95,481.24 662.78,478.20 658.60,481.24 660.21,476.33 656.03,473.31 661.19,473.32" fill="#8a6410"/><polygon points="662.78,471.00 667.06,474.11 665.42,479.14 660.13,479.14 658.50,474.11" fill="#c8cc50" stroke="#8a6410" stroke-width="1.05" stroke-linejoin="miter"/>
<text class="s" x="669.4" y="479.5">7:27am</text>
<polygon points="696.56,482.10 698.14,487.02 703.31,487.01 699.12,490.03 700.73,494.94 696.56,491.90 692.38,494.94 693.99,490.03 689.80,487.01 694.97,487.02" fill="#7a6818"/><polygon points="696.56,484.70 700.84,487.81 699.20,492.84 693.91,492.84 692.28,487.81" fill="#e2302a" stroke="#7a6818" stroke-width="1.05" stroke-linejoin="miter"/>
<text class="s" x="703.5" y="493.6">6:02pm</text>
<circle cx="686.24" cy="503.1" r="4.8" fill="#ffffc4" stroke="#6e6e64" stroke-width="1"/>
<text class="s" x="693.1" y="506.6">2:48pm</text>
<text class="s" x="76" y="533.2">New Moon | 6:48am</text>
<text class="s" x="590.3" y="533.2">First Quarter | 2:38am</text>
</svg></body></html>
